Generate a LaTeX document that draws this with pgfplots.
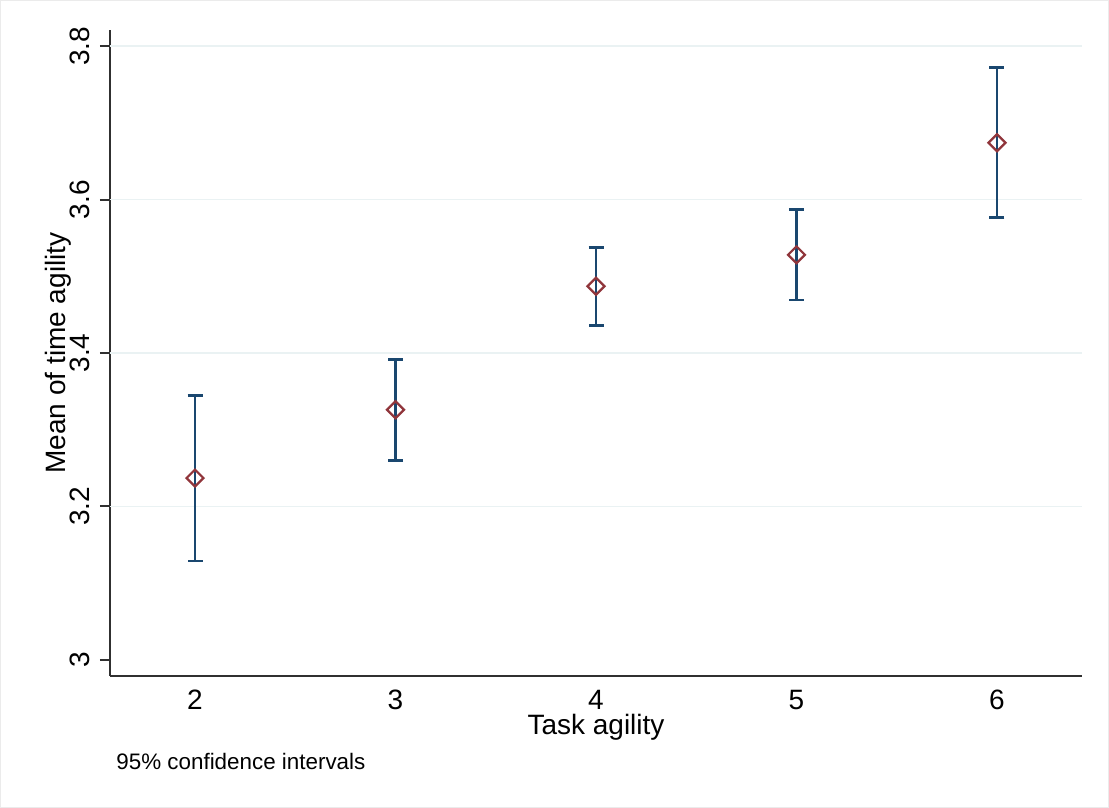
\documentclass[border=0pt]{standalone}
\usepackage{fontspec}
\setmainfont{Liberation Sans}
\usepackage{pgfplots}
\pgfplotsset{compat=1.18}
\usepackage{pgfplotstable}
\definecolor{statanavy}{HTML}{1A476F}
\definecolor{statamaroon}{HTML}{90353B}
\definecolor{gridc}{HTML}{EAF2F3}
\definecolor{axisc}{HTML}{303030}
\pgfplotstableread{
x mean lo hi
2 3.237 3.129 3.345
3 3.326 3.260 3.392
4 3.487 3.436 3.538
5 3.528 3.469 3.587
6 3.674 3.577 3.772
}\cidata
\begin{document}
\begin{tikzpicture}
\path[use as bounding box] (-55pt,-66pt) rectangle (499.5pt,338pt);
\draw[color=black!8, line width=0.6pt] (-54.6pt,-65.6pt) rectangle (499.1pt,337.6pt);
\begin{axis}[
  at={(0pt,0pt)}, anchor=south west,
  scale only axis, width=486pt, height=323pt,
  xmin=1.576, xmax=6.424, ymin=2.979, ymax=3.821,
  axis x line*=bottom, axis y line*=left,
  axis line style={axisc, line width=1pt, -},
  xtick={2,3,4,5,6}, xticklabels={2,3,4,5,6},
  ytick={3,3.2,3.4,3.6,3.8}, yticklabels={3,3.2,3.4,3.6,3.8},
  xtick style={draw=none},
  ytick style={axisc, line width=1pt},
  tick align=outside, major tick length=5pt,
  tick label style={font=\fontsize{14}{14}\selectfont, text=black},
  xticklabel style={anchor=north, inner sep=0pt},
  xticklabel shift=2pt,
  yticklabel style={rotate=90, anchor=base, inner sep=0pt},
  yticklabel shift=5pt,
  extra y ticks={3.2,3.4,3.6,3.8}, extra y tick labels={},
  extra y tick style={grid=major, major grid style={gridc, line width=0.75pt}, major tick length=0pt},
  xlabel={Task agility}, ylabel={Mean of time agility},
  label style={font=\fontsize{14}{14}\selectfont},
  xlabel style={at={(axis description cs:0.5,-0.0913)}, anchor=base, inner sep=0pt},
  ylabel style={at={(axis description cs:-0.0463,0.5)}, anchor=base, rotate=0, inner sep=0pt},
  clip=false,
]
\addplot[draw=none, mark=none, forget plot,
  error bars/.cd, y dir=both, y explicit,
  error bar style={draw=statanavy, line width=1.4pt},
  error mark=|, error mark options={draw=statanavy, line width=1.4pt, mark size=3.75pt}]
  table[x=x, y=mean, y error plus expr=\thisrow{hi}-\thisrow{mean}, y error minus expr=\thisrow{mean}-\thisrow{lo}] {\cidata};
\addplot[only marks, mark=square, mark size=3pt,
  mark options={rotate=45, draw=statamaroon, fill=none, line width=1.1pt}]
  table[x=x, y=mean] {\cidata};
\end{axis}
\node[anchor=base west, inner sep=0pt, font=\fontsize{11.2}{11.2}\selectfont] at (3pt,-47pt) {95\% confidence intervals};
\end{tikzpicture}
\end{document}
